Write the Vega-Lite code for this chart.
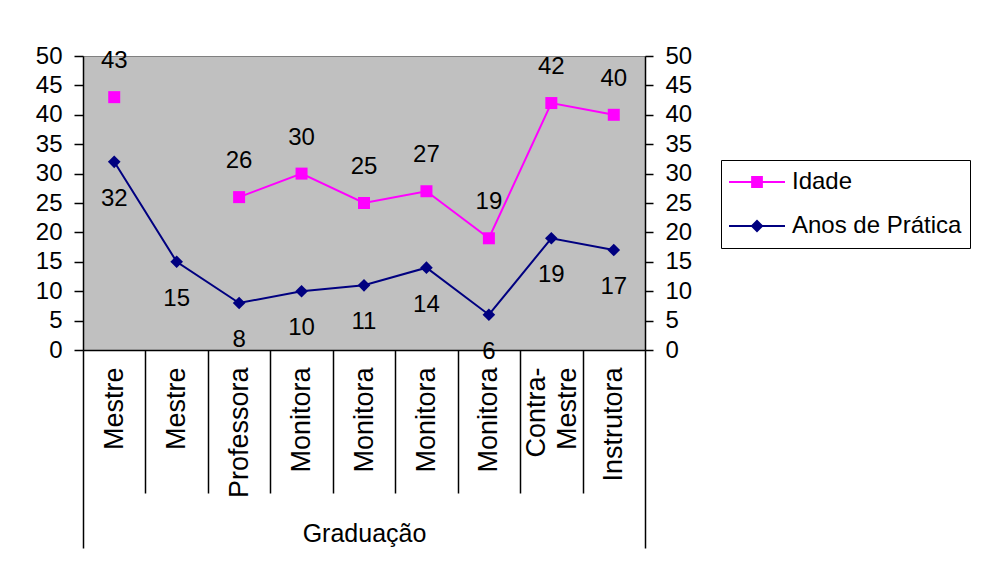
{
  "$schema": "https://vega.github.io/schema/vega-lite/v6.json",
  "width": 562,
  "height": 294,
  "autosize": "none",
  "padding": {"left": 83, "top": 56, "right": 340, "bottom": 221},
  "background": "white",
  "config": {
    "font": "Liberation Sans",
    "view": {"fill": "#C0C0C0", "stroke": "#808080", "strokeWidth": 1}
  },
  "data": {
    "values": [
      {"idx": 1, "series": "Idade", "value": 43},
      {"idx": 2, "series": "Idade", "value": null},
      {"idx": 3, "series": "Idade", "value": 26},
      {"idx": 4, "series": "Idade", "value": 30},
      {"idx": 5, "series": "Idade", "value": 25},
      {"idx": 6, "series": "Idade", "value": 27},
      {"idx": 7, "series": "Idade", "value": 19},
      {"idx": 8, "series": "Idade", "value": 42},
      {"idx": 9, "series": "Idade", "value": 40},
      {"idx": 1, "series": "Anos de Prática", "value": 32},
      {"idx": 2, "series": "Anos de Prática", "value": 15},
      {"idx": 3, "series": "Anos de Prática", "value": 8},
      {"idx": 4, "series": "Anos de Prática", "value": 10},
      {"idx": 5, "series": "Anos de Prática", "value": 11},
      {"idx": 6, "series": "Anos de Prática", "value": 14},
      {"idx": 7, "series": "Anos de Prática", "value": 6},
      {"idx": 8, "series": "Anos de Prática", "value": 19},
      {"idx": 9, "series": "Anos de Prática", "value": 17}
    ]
  },
  "encoding": {
    "x": {
      "field": "idx",
      "type": "ordinal",
      "scale": {"type": "band", "paddingInner": 0, "paddingOuter": 0},
      "axis": {
        "title": "Graduação",
        "titleFontSize": 25,
        "titleFontWeight": "normal",
        "titleColor": "black",
        "titleX": 281,
        "titleY": 183,
        "titleAlign": "center",
        "titleBaseline": "middle",
        "labelExpr": "['', 'Mestre', 'Mestre', 'Professora', 'Monitora', 'Monitora', 'Monitora', 'Monitora', ['Contra-', 'Mestre'], 'Instrutora'][datum.value]",
        "labelAngle": -90,
        "labelAlign": "right",
        "labelBaseline": "middle",
        "labelFontSize": 27,
        "labelLineHeight": 31,
        "labelColor": "black",
        "labelOverlap": false,
        "labelOffset": {"condition": {"test": "datum.value == 8", "value": -15}, "value": 0},
        "labelPadding": {"condition": {"test": "datum.index == 1", "value": -181}, "value": -126},
        "tickBand": "extent",
        "tickColor": "black",
        "tickWidth": 1.5,
        "tickSize": {"condition": {"test": "datum.index == -1 || datum.index == 1", "value": 198}, "value": 143},
        "domainColor": "black",
        "domainWidth": 1.5,
        "grid": false
      }
    }
  },
  "layer": [
    {
      "mark": {"type": "line", "strokeWidth": 2},
      "encoding": {
        "y": {
          "field": "value",
          "type": "quantitative",
          "scale": {"domain": [0, 50], "nice": false},
          "axis": {
            "orient": "left",
            "title": null,
            "values": [0, 5, 10, 15, 20, 25, 30, 35, 40, 45, 50],
            "tickSize": 9,
            "labelPadding": 12,
            "labelFontSize": 24,
            "labelColor": "black",
            "tickColor": "black",
            "tickWidth": 1.5,
            "domainColor": "black",
            "domainWidth": 1.5,
            "grid": false
          }
        },
        "color": {
          "field": "series",
          "type": "nominal",
          "scale": {"domain": ["Idade", "Anos de Prática"], "range": ["#FF00FF", "#000080"]},
          "legend": {
            "title": null,
            "orient": "none",
            "legendX": 638,
            "legendY": 104,
            "padding": 8,
            "strokeColor": "black",
            "fillColor": "white",
            "symbolSize": 3136,
            "symbolStrokeWidth": 0,
            "labelFontSize": 24,
            "labelLimit": 400,
            "labelColor": "black",
            "labelOffset": 7,
            "rowPadding": 16,
            "clipHeight": 28,
            "encode": {
              "symbols": {
                "update": {
                  "shape": {"signal": "datum.value === 'Idade' ? 'M-1,-0.036H1V0.036H-1ZM-0.21,-0.21H0.21V0.21H-0.21Z' : 'M-1,-0.036H1V0.036H-1ZM-0.23,0L0,-0.23L0.23,0L0,0.23Z'"},
                  "fill": {"signal": "datum.value === 'Idade' ? '#FF00FF' : '#000080'"},
                  "stroke": {"value": "transparent"},
                  "strokeWidth": {"value": 0},
                  "size": {"value": 3136},
                  "opacity": {"value": 1},
                  "fillOpacity": {"value": 1}
                }
              }
            }
          }
        }
      }
    },
    {
      "transform": [{"filter": "datum.value != null"}],
      "mark": {"type": "point", "filled": true, "opacity": 1, "strokeWidth": 0},
      "encoding": {
        "y": {
          "field": "value",
          "type": "quantitative",
          "scale": {"domain": [0, 50], "nice": false},
          "axis": {
            "orient": "right",
            "title": null,
            "values": [0, 5, 10, 15, 20, 25, 30, 35, 40, 45, 50],
            "tickSize": 8,
            "labelPadding": 12,
            "labelFontSize": 24,
            "labelColor": "black",
            "tickColor": "black",
            "tickWidth": 1.5,
            "domainColor": "black",
            "domainWidth": 1.5,
            "grid": false
          }
        },
        "fill": {"condition": {"test": "datum.series == 'Idade'", "value": "#FF00FF"}, "value": "#000080"},
        "shape": {"condition": {"test": "datum.series == 'Idade'", "value": "square"}, "value": "diamond"},
        "size": {"condition": {"test": "datum.series == 'Idade'", "value": 144}, "value": 160}
      }
    },
    {
      "transform": [{"filter": "datum.value != null && datum.series == 'Idade'"}],
      "mark": {"type": "text", "fontSize": 24, "color": "black", "baseline": "middle", "dy": -36},
      "encoding": {
        "y": {"field": "value", "type": "quantitative", "axis": null},
        "text": {"field": "value", "type": "quantitative"}
      }
    },
    {
      "transform": [{"filter": "datum.value != null && datum.series == 'Anos de Prática'"}],
      "mark": {"type": "text", "fontSize": 24, "color": "black", "baseline": "middle", "dy": 37},
      "encoding": {
        "y": {"field": "value", "type": "quantitative", "axis": null},
        "text": {"field": "value", "type": "quantitative"}
      }
    }
  ],
  "resolve": {"axis": {"y": "independent"}}
}
